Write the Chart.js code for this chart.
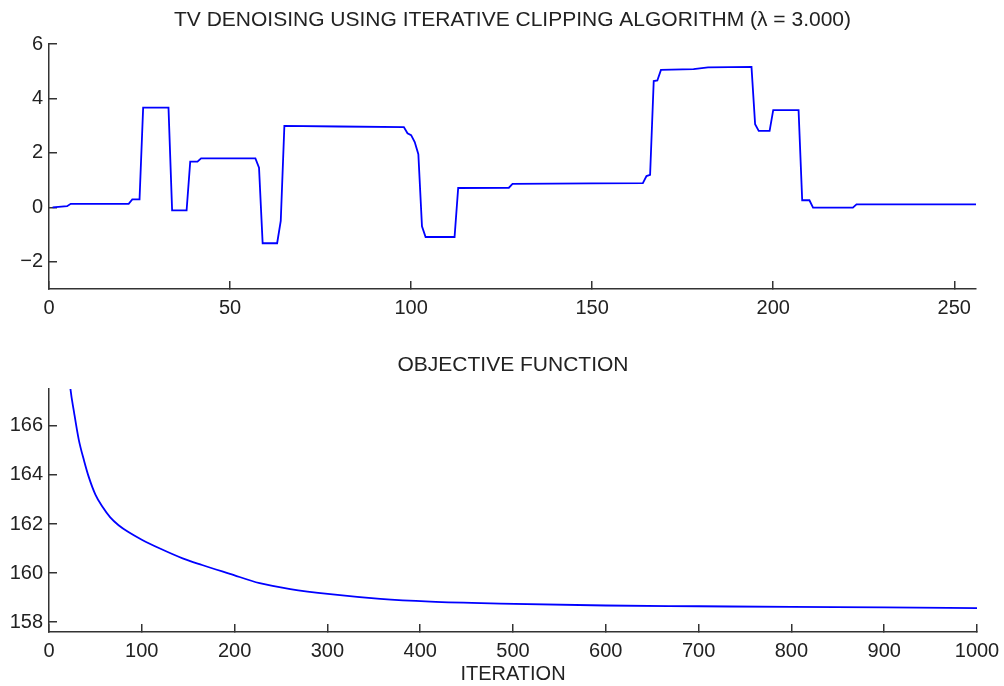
<!DOCTYPE html>
<html>
<head>
<meta charset="utf-8">
<script src="https://cdn.jsdelivr.net/npm/chart.js@4.4.1/dist/chart.umd.min.js"></script>
<style>
  html, body { margin: 0; padding: 0; background: #fff; }
  #wrap { position: relative; width: 1004px; height: 686px; }
  #c1 { position: absolute; left: 0; top: 0; }
  #c2 { position: absolute; left: 0; top: 340px; }
</style>
</head>
<body>
<div id="wrap">
  <canvas id="c1" width="1004" height="330"></canvas>
  <canvas id="c2" width="1004" height="346"></canvas>
</div>
<script>
// ---- Data: denoised signal (breakpoints of the piecewise signal) ----
const sigX = [1, 5, 6, 22, 23, 25, 26, 33, 34, 38, 39, 41, 42, 57, 58, 59, 63, 64, 65, 80, 98, 99, 100, 101, 102, 103, 104, 112, 113, 127, 128, 150, 164, 165, 166, 167, 168, 169, 178, 182, 194, 195, 196, 199, 200, 207, 208, 210, 211, 222, 223, 256];
const sigY = [0.00, 0.04, 0.13, 0.13, 0.29, 0.29, 3.66, 3.66, -0.11, -0.11, 1.68, 1.68, 1.80, 1.80, 1.46, -1.32, -1.32, -0.50, 2.99, 2.97, 2.95, 2.72, 2.65, 2.40, 1.95, -0.70, -1.09, -1.09, 0.71, 0.72, 0.86, 0.88, 0.89, 1.15, 1.19, 4.64, 4.66, 5.05, 5.08, 5.14, 5.16, 3.05, 2.81, 2.81, 3.57, 3.57, 0.26, 0.26, -0.01, -0.01, 0.11, 0.11];

// ---- Data: objective function vs iteration ----
const objIter = [15, 23, 27, 32, 38, 43, 50, 58, 66, 75, 86, 100, 119, 144, 165, 195, 227, 260, 303, 357, 411, 486, 600, 700, 800, 900, 1000];
const objVal  = [171.0, 167.54, 166.55, 165.45, 164.55, 163.9, 163.2, 162.68, 162.27, 161.95, 161.66, 161.36, 161.01, 160.60, 160.33, 159.97, 159.59, 159.35, 159.14, 158.95, 158.84, 158.76, 158.68, 158.65, 158.62, 158.60, 158.57];

// ---- Tick labels ----
const topXTicks = [0, 50, 100, 150, 200, 250];
const topYTicks = [-2, 0, 2, 4, 6];
const botXTicks = [0, 100, 200, 300, 400, 500, 600, 700, 800, 900, 1000];
const botYTicks = [158, 160, 162, 164, 166];

const title1 = 'TV DENOISING USING ITERATIVE CLIPPING ALGORITHM (\u03BB = 3.000)';
const title2 = 'OBJECTIVE FUNCTION';
const xLabel2 = 'ITERATION';

const FONT = 'Liberation Sans, Arial, Helvetica, sans-serif';
const TXT = '#222';
const AX = '#333';

function fmt(v) { return v < 0 ? '\u2212' + Math.abs(v) : String(v); }

function axisCommon(ticksArr, isY, fixedSize) {
  return {
    type: 'linear',
    grid: { display: true, drawOnChartArea: false, drawTicks: true, tickLength: -8, color: AX, lineWidth: 1.5 },
    border: { display: true, color: AX, width: 1.5 },
    ticks: {
      color: TXT,
      font: { family: FONT, size: 20 },
      padding: isY ? 14 : 15,
      maxRotation: 0,
      autoSkip: false,
      callback: (v) => fmt(v)
    },
    afterBuildTicks: (s) => { s.ticks = ticksArr.map(v => ({ value: v })); },
    afterFit: (s) => {
      if (isY) s.width = fixedSize; else s.height = fixedSize;
      s.paddingLeft = 0; s.paddingRight = 0; s.paddingTop = 0; s.paddingBottom = 0;
    }
  };
}

// Title centred over the plot area
const areaTitle = {
  id: 'areaTitle',
  afterDraw(chart, args, opts) {
    const ctx = chart.ctx;
    const a = chart.chartArea;
    ctx.save();
    ctx.fillStyle = TXT;
    ctx.font = '21px ' + FONT;
    ctx.textAlign = 'center';
    ctx.textBaseline = 'middle';
    ctx.fillText(opts.text, (a.left + a.right) / 2, opts.y);
    ctx.restore();
  }
};

Chart.defaults.font.family = FONT;

// Top chart
const x1 = axisCommon(topXTicks, false, 41); x1.min = 0; x1.max = 256;
const y1 = axisCommon(topYTicks, true, 49); y1.min = -3; y1.max = 6;
new Chart(document.getElementById('c1'), {
  type: 'line',
  data: {
    datasets: [{
      data: sigX.map((x, i) => ({ x: x, y: sigY[i] })),
      borderColor: '#0000ff',
      borderWidth: 1.8,
      pointRadius: 0,
      fill: false,
      tension: 0
    }]
  },
  options: {
    responsive: false,
    animation: false,
    layout: { padding: { left: 0, right: 28, top: 44, bottom: 0 } },
    plugins: {
      legend: { display: false },
      tooltip: { enabled: false },
      title: { display: false },
      areaTitle: { text: title1, y: 20 }
    },
    scales: { x: x1, y: y1 }
  },
  plugins: [areaTitle]
});

// Bottom chart
const x2 = axisCommon(botXTicks, false, 54); x2.min = 0; x2.max = 1000;
x2.title = { display: true, text: xLabel2, color: TXT, font: { family: FONT, size: 20 }, padding: { top: 0, bottom: 0 } };
const y2 = axisCommon(botYTicks, true, 49); y2.min = 157.6; y2.max = 167.5;
new Chart(document.getElementById('c2'), {
  type: 'line',
  data: {
    datasets: [{
      data: objIter.map((x, i) => ({ x: x, y: objVal[i] })),
      borderColor: '#0000ff',
      borderWidth: 1.8,
      pointRadius: 0,
      fill: false,
      cubicInterpolationMode: 'monotone'
    }]
  },
  options: {
    responsive: false,
    animation: false,
    layout: { padding: { left: 0, right: 27, top: 49, bottom: 0 } },
    plugins: {
      legend: { display: false },
      tooltip: { enabled: false },
      title: { display: false },
      areaTitle: { text: title2, y: 25 }
    },
    scales: { x: x2, y: y2 }
  },
  plugins: [areaTitle]
});
</script>
</body>
</html>
